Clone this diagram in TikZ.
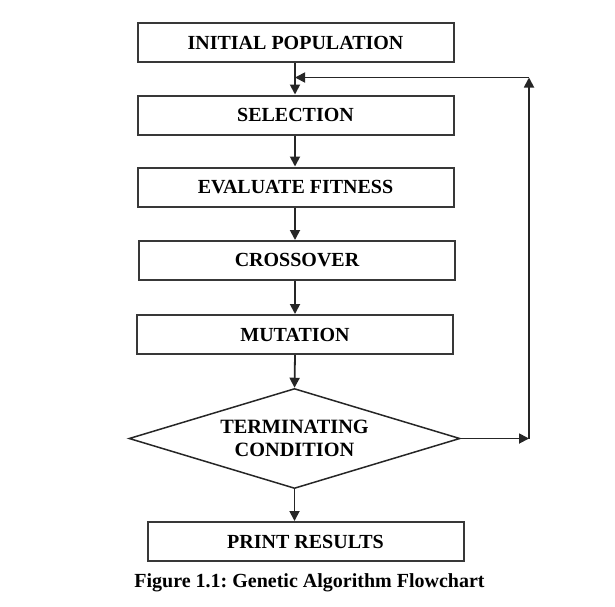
\documentclass[tikz,border=0pt]{standalone}
\usepackage{fontspec}
\setmainfont{Liberation Serif}
\usetikzlibrary{shapes.geometric,arrows.meta}
\begin{document}
\frenchspacing
\begin{tikzpicture}[x=1pt,y=-1pt,
  stepbox/.style={draw=black!78, line width=2pt, minimum width=316pt, minimum height=39pt, inner sep=0pt,
    font=\fontsize{20}{22}\selectfont\bfseries},
  decision/.style={draw=black!85, line width=1.5pt, diamond, aspect=3.31, minimum width=331pt, minimum height=100pt, inner sep=0pt,
    align=center, font=\fontsize{20.3}{22.5}\selectfont\bfseries},
  flow/.style={draw=black!85, line width=1.8pt, -{Triangle[length=10pt,width=10pt]}}
]
\useasboundingbox (0,0) rectangle (615,606);
\node[stepbox] (init) at (295.5,42.5) {INITIAL POPULATION};
\node[stepbox] (sel) at (295.5,115) {SELECTION};
\node[stepbox] (eval) at (295.5,187) {EVALUATE FITNESS};
\node[stepbox] (cross) at (297,260.5) {CROSSOVER};
\node[stepbox] (mut) at (295,334.5) {MUTATION};
\node[decision] (term) at (294.5,438.5) {TERMINATING\\CONDITION};
\node[stepbox] (print) at (305.5,541.5) {PRINT RESULTS};
\node[font=\fontsize{20}{22}\selectfont\bfseries, anchor=base] (cap) at (309.5,587) {Figure 1.1: Genetic Algorithm Flowchart};
\coordinate (join) at (295,77.5);
\coordinate (rt) at (529,438.5);
\coordinate (rtop) at (529,77.5);
\draw[flow] (init.south -| join) -- (sel.north -| join);
\draw[flow] (sel.south -| join) -- (eval.north -| join);
\draw[flow] (eval.south -| join) -- (cross.north -| join);
\draw[flow] (cross.south -| join) -- (mut.north -| join);
\draw[flow] (mut.south -| join) -- (term.north);
\draw[flow] (term.south) -- (print.north -| term.south);
\draw[flow] (term.east) -- (rt);
\draw[flow] (rt) -- (rtop);
\draw[flow] (rtop) -- (join);
\end{tikzpicture}
\end{document}
